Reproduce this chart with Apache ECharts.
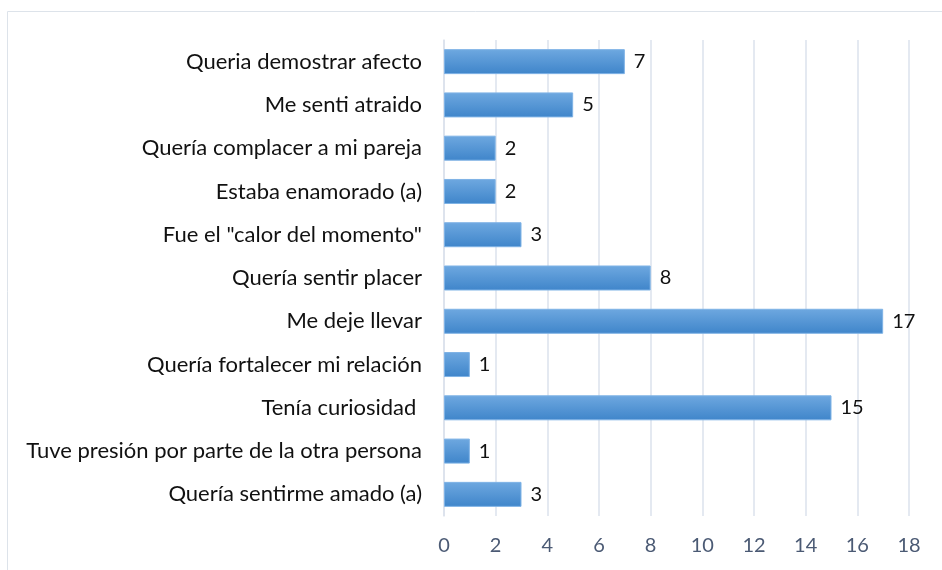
<!DOCTYPE html>
<html lang="es">
  <head>
    <meta charset="UTF-8" />
    <title>Motivos</title>
    <style>
      html, body { margin: 0; padding: 0; background: #fff; }
      #main { width: 942px; height: 570px; }
    </style>
  </head>
  <body>
    <div id="main"></div>
    <script src="https://cdn.jsdelivr.net/npm/echarts@6/dist/echarts.min.js"></script>
    <script>
      const categories = [
        "Queria demostrar afecto",
        "Me senti atraido",
        "Quería complacer a mi pareja",
        "Estaba enamorado (a)",
        'Fue el "calor del momento"',
        "Quería sentir placer",
        "Me deje llevar",
        "Quería fortalecer mi relación",
        "Tenía curiosidad ",
        "Tuve presión por parte de la otra persona",
        "Quería sentirme amado (a)",
      ];
      const values = [7, 5, 2, 2, 3, 8, 17, 1, 15, 1, 3];
      const xTicks = { min: 0, max: 18, interval: 2 };

      const chart = echarts.init(document.getElementById("main"));
      const font = "Lato, 'Open Sans', sans-serif";

      chart.setOption({
        animation: false,
        textStyle: { fontFamily: font },
        graphic: [
          {
            type: "rect",
            shape: { x: 7.5, y: 11.5, width: 960, height: 600 },
            style: { fill: "none", stroke: "#dde3ea", lineWidth: 1 },
            silent: true,
          },
        ],
        grid: { left: 444, right: 33, top: 40, bottom: 54 },
        xAxis: {
          type: "value",
          min: xTicks.min,
          max: xTicks.max,
          interval: xTicks.interval,
          axisLine: { show: false },
          axisTick: { show: false },
          splitLine: { lineStyle: { color: "#dbe2ec", width: 1.5 } },
          axisLabel: { color: "#4b5a74", fontSize: 20, margin: 20, fontFamily: font },
        },
        yAxis: {
          type: "category",
          data: categories,
          inverse: true,
          axisLine: { show: true, lineStyle: { color: "#dbe2ec", width: 1.5 } },
          axisTick: { show: false },
          axisLabel: { color: "#111", fontSize: 22, margin: 22, fontFamily: font },
        },
        series: [
          {
            type: "bar",
            data: values,
            barWidth: 25,
            itemStyle: {
              color: new echarts.graphic.LinearGradient(0, 0, 0, 1, [
                { offset: 0, color: "#6ea8e0" },
                { offset: 1, color: "#3f85ca" },
              ]),
              borderColor: "#7fb3e6",
              borderWidth: 1,
            },
            label: {
              show: true,
              position: "right",
              distance: 9,
              color: "#111",
              fontSize: 20,
              fontFamily: font,
            },
          },
        ],
      });
    </script>
  </body>
</html>
